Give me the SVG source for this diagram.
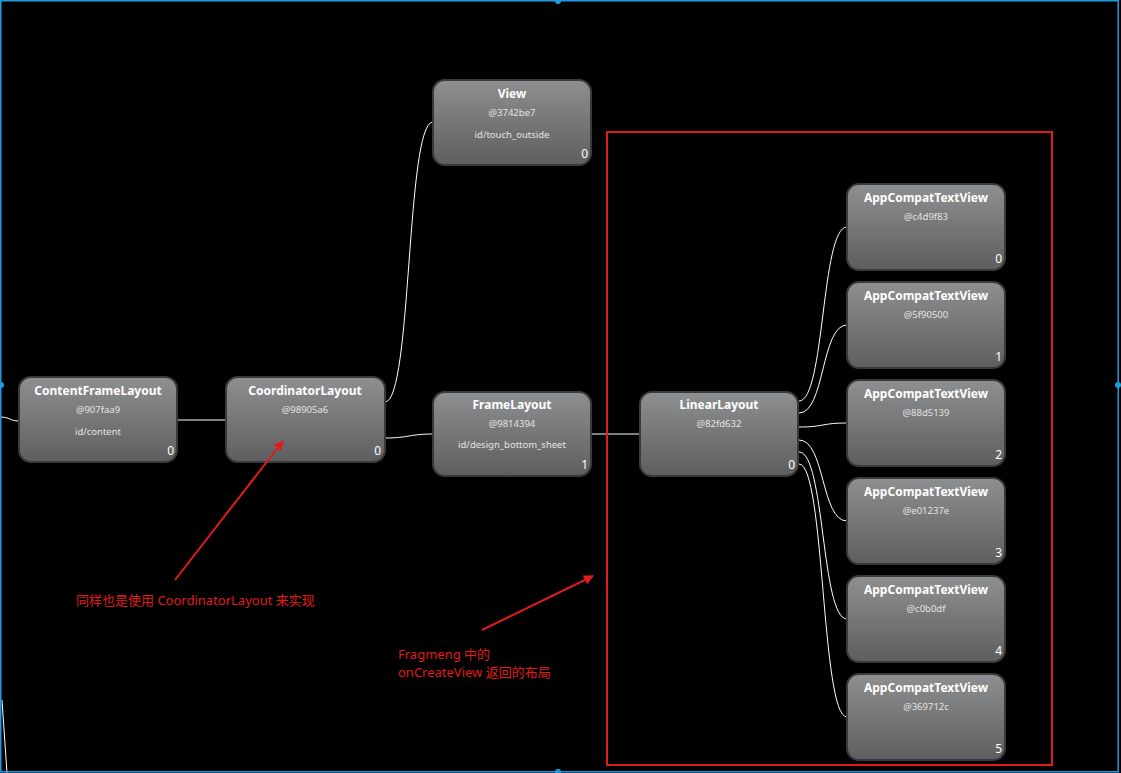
<svg xmlns="http://www.w3.org/2000/svg" width="1121" height="773" viewBox="0 0 1121 773">
<defs>
<linearGradient id="g" x1="0" y1="0" x2="0" y2="1">
<stop offset="0" stop-color="#8e8f91"/>
<stop offset="1" stop-color="#5d5e60"/>
</linearGradient>
<marker id="ah" viewBox="0 0 10 10" refX="9" refY="5" markerWidth="10" markerHeight="10" markerUnits="userSpaceOnUse" orient="auto">
<path d="M0,0 L10,5 L0,10 z" fill="#e01b1b"/>
</marker>
<style>
.n rect{fill:url(#g);stroke:#3a3a3a;stroke-width:2}
.t{font-family:"Noto Sans","DejaVu Sans",sans-serif;font-weight:bold;font-size:12px;fill:#ffffff;text-anchor:middle}
.s{font-family:"Noto Sans","DejaVu Sans",sans-serif;font-size:9.5px;fill:#e4e4e4;text-anchor:middle}
.i{font-family:"Noto Sans","DejaVu Sans",sans-serif;font-size:12px;fill:#ffffff;text-anchor:end}
.c path{fill:none;stroke:#ffffff;stroke-width:1}
.r{font-family:"Noto Sans","Noto Sans CJK SC",sans-serif;font-size:13px;fill:#e01b1b}
</style>
</defs>
<rect x="0" y="0" width="1121" height="773" fill="#000000"/>

<g class="c" id="connectors">
<path d="M0,417 C10,417 10,421 19,421"/>
<path d="M177,420 L226,420"/>
<path d="M385,402 C412,402 406,122 433,122"/>
<path d="M385,438 C409,438 409,434 433,434"/>
<path d="M591,434 L640,434"/>
<path d="M799,401 C825,401 821,227 847,227"/>
<path d="M799,413 C825,413 821,325 847,325"/>
<path d="M799,427 C825,427 821,423 847,423"/>
<path d="M799,440 C825,440 821,521 847,521"/>
<path d="M799,452 C825,452 821,619 847,619"/>
<path d="M799,464 C825,464 821,717 847,717"/>
<path d="M2,700 L7,773"/>
</g>

<g id="n-contentframelayout" class="n">
<rect x="19" y="377" width="158" height="85" rx="12"/>
<text class="t" x="98" y="395">ContentFrameLayout</text>
<text class="s" x="98" y="413">@907faa9</text>
<text class="s" x="98" y="435">id/content</text>
<text class="i" x="174" y="455">0</text>
</g>
<g id="n-coordinatorlayout" class="n">
<rect x="226" y="377" width="159" height="85" rx="12"/>
<text class="t" x="305" y="395">CoordinatorLayout</text>
<text class="s" x="305" y="413">@98905a6</text>
<text class="i" x="381" y="455">0</text>
</g>
<g id="n-view" class="n">
<rect x="433" y="80" width="158" height="85" rx="12"/>
<text class="t" x="512" y="98">View</text>
<text class="s" x="512" y="116">@3742be7</text>
<text class="s" x="512" y="138">id/touch_outside</text>
<text class="i" x="588" y="158">0</text>
</g>
<g id="n-framelayout" class="n">
<rect x="433" y="392" width="158" height="84" rx="12"/>
<text class="t" x="512" y="409">FrameLayout</text>
<text class="s" x="512" y="427">@9814394</text>
<text class="s" x="512" y="448">id/design_bottom_sheet</text>
<text class="i" x="588" y="469">1</text>
</g>
<g id="n-linearlayout" class="n">
<rect x="640" y="392" width="158" height="84" rx="12"/>
<text class="t" x="719" y="409">LinearLayout</text>
<text class="s" x="719" y="427">@82fd632</text>
<text class="i" x="795" y="469">0</text>
</g>
<g id="n-tv0" class="n">
<rect x="847" y="184" width="158" height="86" rx="12"/>
<text class="t" x="926" y="202">AppCompatTextView</text>
<text class="s" x="926" y="220">@c4d9f83</text>
<text class="i" x="1002" y="263">0</text>
</g>
<g id="n-tv1" class="n">
<rect x="847" y="282" width="158" height="86" rx="12"/>
<text class="t" x="926" y="300">AppCompatTextView</text>
<text class="s" x="926" y="318">@5f90500</text>
<text class="i" x="1002" y="361">1</text>
</g>
<g id="n-tv2" class="n">
<rect x="847" y="380" width="158" height="86" rx="12"/>
<text class="t" x="926" y="398">AppCompatTextView</text>
<text class="s" x="926" y="416">@88d5139</text>
<text class="i" x="1002" y="459">2</text>
</g>
<g id="n-tv3" class="n">
<rect x="847" y="478" width="158" height="86" rx="12"/>
<text class="t" x="926" y="496">AppCompatTextView</text>
<text class="s" x="926" y="514">@e01237e</text>
<text class="i" x="1002" y="557">3</text>
</g>
<g id="n-tv4" class="n">
<rect x="847" y="576" width="158" height="86" rx="12"/>
<text class="t" x="926" y="594">AppCompatTextView</text>
<text class="s" x="926" y="612">@c0b0df</text>
<text class="i" x="1002" y="655">4</text>
</g>
<g id="n-tv5" class="n">
<rect x="847" y="674" width="158" height="86" rx="12"/>
<text class="t" x="926" y="692">AppCompatTextView</text>
<text class="s" x="926" y="710">@369712c</text>
<text class="i" x="1002" y="753">5</text>
</g>

<g id="annotations">
<rect x="607" y="132" width="445" height="633" fill="none" stroke="#e01b1b" stroke-width="2"/>
<line x1="175" y1="580" x2="283" y2="441" stroke="#e01b1b" stroke-width="2" marker-end="url(#ah)"/>
<line x1="482" y1="630" x2="593" y2="576" stroke="#e01b1b" stroke-width="2" marker-end="url(#ah)"/>
<text class="r" x="76" y="605">同样也是使用 CoordinatorLayout 来实现</text>
<text class="r" x="398" y="659">Fragmeng 中的</text>
<text class="r" x="398" y="677">onCreateView 返回的布局</text>
</g>

<g id="selection" fill="#1e9be0">
<rect x="0.75" y="0.75" width="1117.5" height="771" fill="none" stroke="#1e9be0" stroke-width="1.5"/>
<circle cx="558" cy="1" r="3"/>
<circle cx="558" cy="772" r="3"/>
<circle cx="1" cy="385" r="3"/>
<circle cx="1118" cy="385" r="3"/>
</g>
</svg>
